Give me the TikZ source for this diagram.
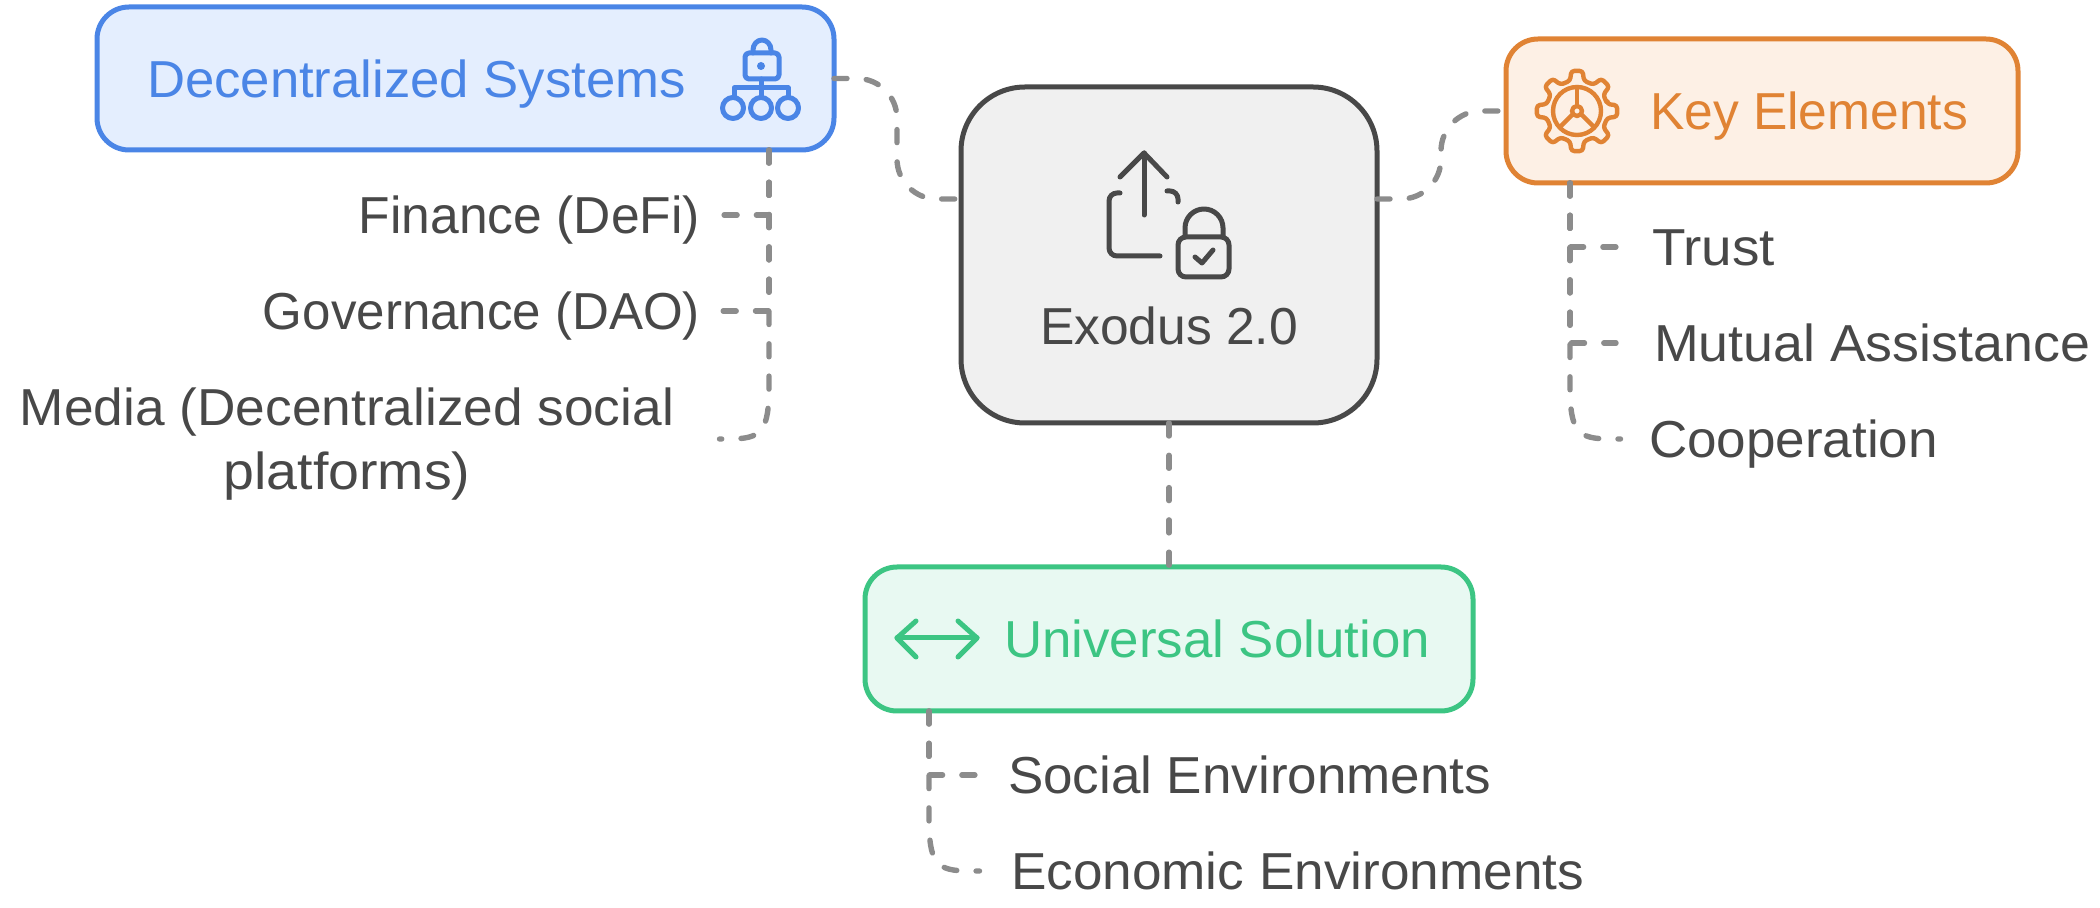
\documentclass[tikz,border=0pt]{standalone}
\usepackage{graphicx}
\usepackage{fontspec}
\setmainfont{Liberation Sans}
\definecolor{cblue}{HTML}{4A85E6}
\definecolor{fblue}{HTML}{E4EEFE}
\definecolor{corange}{HTML}{E08334}
\definecolor{forange}{HTML}{FDF0E5}
\definecolor{cgreen}{HTML}{3CC583}
\definecolor{fgreen}{HTML}{E8F9F2}
\definecolor{cdark}{HTML}{484848}
\definecolor{fdark}{HTML}{F0F0F0}
\definecolor{clink}{HTML}{8C8C8C}
% width given in pt; total height kept
\newcommand{\tw}[2]{\resizebox*{#1pt}{\totalheight}{#2}}
\tikzset{
  x=0.5pt,y=-0.5pt,
  boxnode/.style={draw,line width=2.5pt,rounded corners=16pt,outer sep=0pt,inner sep=0pt},
  boxtext/.style={anchor=base west,inner sep=0pt,outer sep=0pt,font=\fontsize{26}{32}\selectfont},
  itemtext/.style={inner ysep=0pt,outer sep=0pt,text=cdark,text height=22.5pt,text depth=3.5pt,font=\fontsize{26}{32}\selectfont},
  link/.style={draw=clink,line width=2.7pt,line cap=round,dash pattern=on 6.5pt off 9.65pt},
  icon/.style={line width=2.5pt,line cap=round,line join=round},
}
\begin{document}
\begin{tikzpicture}
\useasboundingbox (0,0) rectangle (2100,908);
% boxes
\node[boxnode,draw=cblue,fill=fblue,minimum width=368.5pt,minimum height=71.5pt] (blue) at (465.5,78.5) {};
\node[boxnode,draw=cdark,fill=fdark,rounded corners=32pt,minimum width=208pt,minimum height=168pt] (center) at (1169,255) {};
\node[boxnode,draw=corange,fill=forange,minimum width=256pt,minimum height=72pt] (orange) at (1762,111) {};
\node[boxnode,draw=cgreen,fill=fgreen,minimum width=304pt,minimum height=72pt] (green) at (1169,639) {};
% box texts
\node[boxtext,text=cblue] (bluetext) at (147,98) {\tw{269.5}{Decentralized Systems}};
\node[boxtext,text=cdark] (centertext) at (1040,345) {\tw{129}{Exodus 2.0}};
\node[boxtext,text=corange] (orangetext) at (1650,130) {\tw{159}{Key Elements}};
\node[boxtext,text=cgreen] (greentext) at (1004,658) {\tw{213}{Universal Solution}};
% items
\node[itemtext,anchor=east,inner xsep=11pt] (fin) at (722,215) {\tw{170.5}{Finance (DeFi)}};
\node[itemtext,anchor=east,inner xsep=11pt] (gov) at (722,311) {\tw{218.5}{Governance (DAO)}};
\node[anchor=east,inner xsep=22.75pt,inner ysep=0pt,outer sep=0pt,text=cdark,align=center,font=\fontsize{26}{32}\selectfont] (media) at (719.5,439) {\rule{0pt}{24pt}\tw{327}{Media (Decentralized social}\\\tw{123.5}{platforms)}\rule[-5pt]{0pt}{5pt}};
\node[itemtext,anchor=west,inner xsep=18pt] (trust) at (1616,247) {\tw{61.5}{Trust}};
\node[itemtext,anchor=west,inner xsep=19pt] (mutual) at (1616,343) {\tw{218}{Mutual Assistance}};
\node[itemtext,anchor=west,inner xsep=14.25pt] (coop) at (1620.5,439) {\tw{144.5}{Cooperation}};
\node[itemtext,anchor=west,inner xsep=15.5pt] (social) at (977,775) {\tw{241.5}{Social Environments}};
\node[itemtext,anchor=west,inner xsep=15.75pt] (econ) at (979.5,871) {\tw{286.5}{Economic Environments}};
% connector attachment points
\coordinate (bd) at (769,150);
\coordinate (od) at (1570,183);
\coordinate (gd) at (929,711);
\coordinate (cl) at (961,199);
\coordinate (cr) at (1377,199);
\coordinate (bm) at (897,199);
\coordinate (om) at (1441,111);
% connectors
\draw[link,rounded corners=20pt] (blue.east) -| (bm) -- (cl);
\draw[link,rounded corners=20pt] (cr) -| (om) -- (orange.west);
\draw[link] (center.south) -- (green.north);
\draw[link] (bd) |- (fin.east);
\draw[link] (bd) |- (gov.east);
\draw[link] (bd) -- (769,385) .. controls (769,432) and (762,439) .. (728,439) -- (media.east);
\draw[link] (od) |- (trust.west);
\draw[link] (od) |- (mutual.west);
\draw[link] (od) -- (1570,385) .. controls (1570,432) and (1577,439) .. (1611,439) -- (coop.west);
\draw[link] (gd) |- (social.west);
\draw[link] (gd) -- (929,817) .. controls (929,864) and (936,871) .. (970,871) -- (econ.west);
% blue icon
\begin{scope}[icon,draw=cblue]
\draw[rounded corners=2pt] (745,53) rectangle (779,79);
\draw (753,53) -- (753,50) arc[start angle=180,end angle=360,x radius=9,y radius=10] -- (771,53);
\fill[cblue] (761,66) circle[radius=4];
\draw (761,79) -- (761,97);
\draw (734,97) -- (734,88) -- (788,88) -- (788,97);
\draw (733,108) circle[radius=10.5];
\draw (761,108) circle[radius=10.5];
\draw (788,108) circle[radius=10.5];
\end{scope}
% center icon
\begin{scope}[icon,draw=cdark]
\draw[rounded corners=4pt] (1120,193) -- (1109,193) -- (1109,256) -- (1160,256);
\draw[rounded corners=4pt] (1167,191) -- (1178,191) -- (1178,202);
\draw (1144,215) -- (1144,153);
\draw (1120,177) -- (1144,153) -- (1167,177);
\draw[rounded corners=4pt] (1178,237) rectangle (1229,277);
\draw (1185,237) -- (1185,228) arc[start angle=180,end angle=360,radius=19] -- (1223,237);
\draw (1195,257) -- (1202,263) -- (1213,250);
\end{scope}
% gear icon
\begin{scope}[icon,draw=corange,shift={(1577,111)},line width=2.2pt]
\draw[rounded corners=1.5pt] (-13:31)
  \foreach \a in {0,45,...,315} { -- (\a-13:31) -- (\a-8:40.5) -- (\a+8:40.5) -- (\a+13:31) } -- cycle;
\draw (0,0) circle[radius=24];
\draw (0,0) circle[radius=5];
\draw (0,-5) -- (0,-24);
\draw (4,3) -- (17,16);
\draw (-4,3) -- (-17,16);
\end{scope}
% green icon
\begin{scope}[icon,draw=cgreen]
\draw (897,638) -- (977,638);
\draw (916,621) -- (897,638) -- (916,657);
\draw (958,621) -- (977,638) -- (958,657);
\end{scope}
\end{tikzpicture}
\end{document}
